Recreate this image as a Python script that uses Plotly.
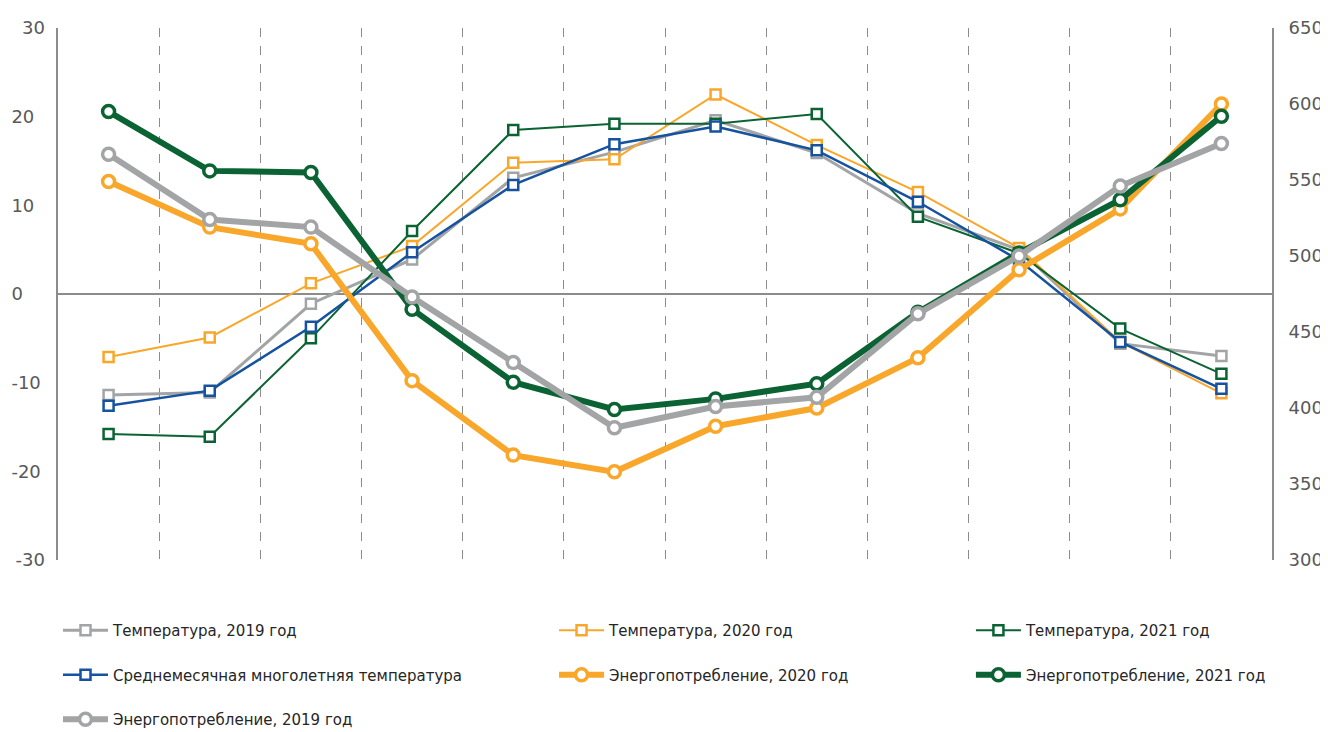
import plotly.graph_objects as go

months = ["Январь", "Февраль", "Март", "Апрель", "Май", "Июнь", "Июль",
          "Август", "Сентябрь", "Октябрь", "Ноябрь", "Декабрь"]

temp_2019 = [-11.4, -11.1, -1.1, 3.9, 13.1, 16.0, 19.6, 15.9, 9.1, 5.0, -5.6, -7.0]
temp_2020 = [-7.1, -4.9, 1.2, 5.4, 14.8, 15.2, 22.5, 16.8, 11.5, 5.2, -5.4, -11.2]
temp_2021 = [-15.8, -16.1, -5.0, 7.1, 18.5, 19.2, 19.2, 20.3, 8.7, 4.6, -3.9, -9.0]
temp_mean = [-12.6, -10.9, -3.7, 4.7, 12.3, 16.9, 18.9, 16.2, 10.4, 3.8, -5.4, -10.7]

energy_2019 = [567, 524, 519, 473, 430, 387, 401, 407, 462, 500, 546, 574]
energy_2020 = [549, 519, 508, 418, 369, 358, 388, 400, 433, 491, 531, 600]
energy_2021 = [595, 556, 555, 465, 417, 399, 406, 416, 463, 502, 537, 592]

left_inner_ticks = [-20, -10, 0, 10, 20]
left_inner_labels = ["-20", "-10", "0", "10", "20"]
left_edge_ticks = [-30, 30]
left_edge_labels = ["-30", "30"]
right_ticks = [300, 350, 400, 450, 500, 550, 600, 650]

GRAY = "#A2A4A5"
ORANGE = "#F9A72B"
GREEN = "#0B6333"
BLUE = "#1552A0"

x = list(range(len(months)))

fig = go.Figure()

def temp_trace(name, vals, color, width, legend):
    return go.Scatter(
        x=x, y=vals, name=name, mode="lines+markers", yaxis="y",
        line=dict(color=color, width=width),
        marker=dict(symbol="square", size=10, color="white",
                    line=dict(color=color, width=2.5)),
        legend=legend, legendgroup=name,
        hovertext=months,
    )

def energy_trace(name, vals, color, legend):
    return go.Scatter(
        x=x, y=vals, name=name, mode="lines+markers", yaxis="y2",
        line=dict(color=color, width=6),
        marker=dict(symbol="circle", size=12, color="white",
                    line=dict(color=color, width=3.5)),
        legend=legend, legendgroup=name,
        hovertext=months,
    )

# helper (empty) trace so the edge-label axis is drawn
fig.add_trace(go.Scatter(x=[], y=[], yaxis="y3", showlegend=False, hoverinfo="skip"))

fig.add_trace(temp_trace("Температура, 2019 год", temp_2019, GRAY, 3, "legend"))
fig.add_trace(temp_trace("Температура, 2020 год", temp_2020, ORANGE, 2, "legend2"))
fig.add_trace(temp_trace("Температура, 2021 год", temp_2021, GREEN, 2, "legend3"))
fig.add_trace(temp_trace("Среднемесячная многолетняя температура", temp_mean, BLUE, 2.5, "legend"))
fig.add_trace(energy_trace("Энергопотребление, 2020 год", energy_2020, ORANGE, "legend2"))
fig.add_trace(energy_trace("Энергопотребление, 2021 год", energy_2021, GREEN, "legend3"))
fig.add_trace(energy_trace("Энергопотребление, 2019 год", energy_2019, GRAY, "legend"))

AX = "#8C8C8C"
tickfont = dict(family="DejaVu Sans", size=18, color="#595959")
legfont = dict(family="DejaVu Sans", size=15, color="#262626")

# figure is drawn inside the page body with an 8px default margin
W, H = 1320, 724
L, T, R, B = 50, 20, 56, 172
plot_w = W - L - R
plot_h = H - T - B

leg_y = -(612 - 6 - 552) / plot_h

leg_common = dict(orientation="v", xanchor="left", yanchor="top", y=leg_y,
                  font=legfont, tracegroupgap=22, itemwidth=45,
                  bgcolor="rgba(0,0,0,0)")

fig.update_layout(
    width=W, height=H,
    margin=dict(l=L, r=R, t=T, b=B, autoexpand=False),
    plot_bgcolor="white", paper_bgcolor="white",
    showlegend=True,
    legend=dict(x=0.0, **leg_common),
    legend2=dict(x=0.4086, **leg_common),
    legend3=dict(x=0.752, **leg_common),
    xaxis=dict(
        range=[-0.5, 11.5], tickmode="array",
        tickvals=[i + 0.5 for i in range(11)],
        showticklabels=False, ticks="",
        showgrid=True, gridcolor=AX, griddash="dash", gridwidth=1,
        zeroline=False, showline=False,
    ),
    yaxis=dict(
        range=[-30, 30], tickmode="array", tickvals=left_inner_ticks,
        ticktext=left_inner_labels,
        showgrid=False, zeroline=True, zerolinecolor=AX, zerolinewidth=2,
        showline=True, linecolor=AX, linewidth=2, ticks="",
        tickfont=tickfont, ticklabelposition="inside", ticklabelstandoff=-46,
    ),
    yaxis3=dict(
        range=[-30, 30], tickmode="array", tickvals=left_edge_ticks,
        ticktext=left_edge_labels,
        overlaying="y", side="left", showgrid=False, zeroline=False,
        showline=False, ticks="", tickfont=tickfont, ticklabelstandoff=12,
    ),
    yaxis2=dict(
        range=[300, 650], tickmode="array", tickvals=right_ticks,
        overlaying="y", side="right", showgrid=False, zeroline=False,
        showline=True, linecolor=AX, linewidth=2, ticks="",
        tickfont=tickfont, ticklabelstandoff=11,
    ),
)

fig.write_html("out.html")
